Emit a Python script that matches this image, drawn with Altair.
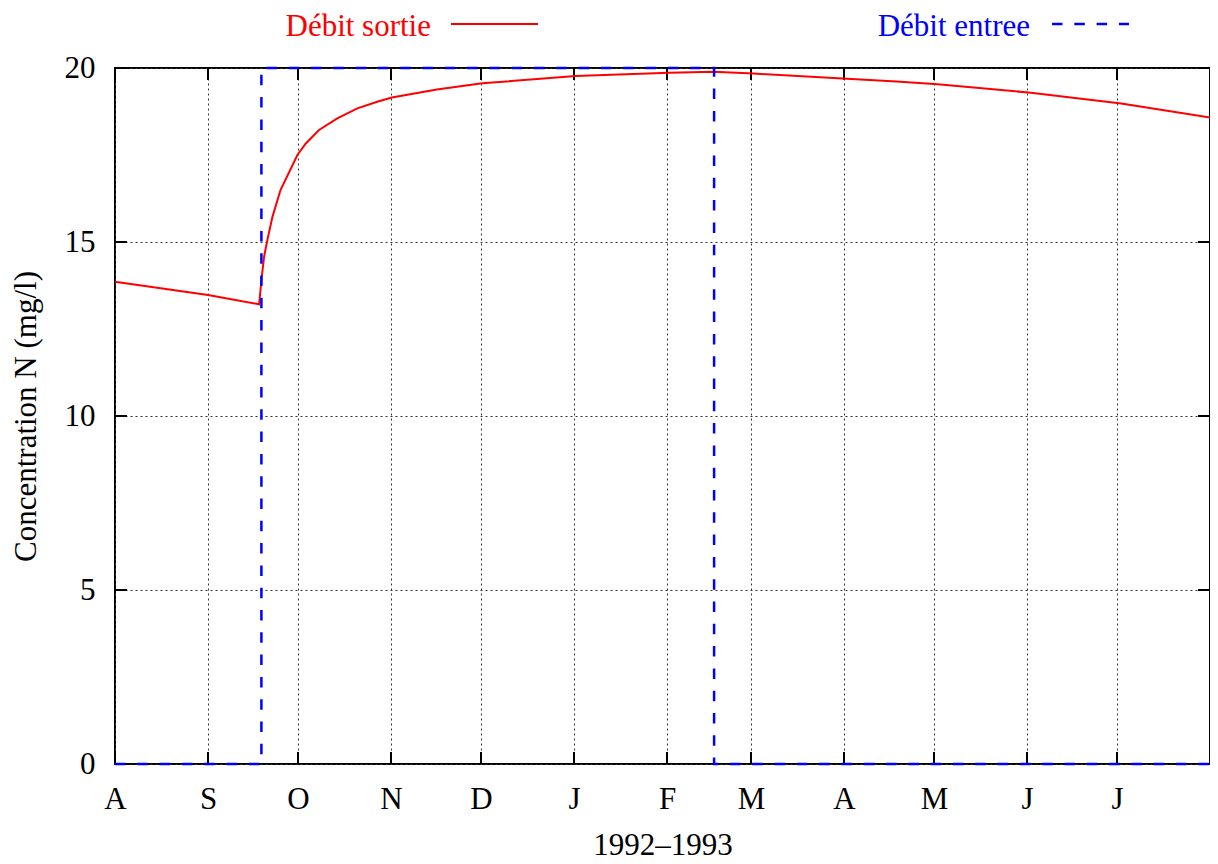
import altair as alt
import pandas as pd

# ---- data ----
month_days = [0, 31, 61, 92, 122, 153, 184, 212, 243, 273, 304, 334]
month_labels = ["A", "S", "O", "N", "D", "J", "F", "M", "A", "M", "J", "J"]
y_ticks = [0, 5, 10, 15, 20]

series_names = ["Débit sortie", "Débit entree"]

sortie_days = [0, 31, 48.05, 48.8, 49.7, 50.8, 52.5, 55.2, 60.8, 63.6, 68.0, 74.1,
               80.8, 87.4, 92.3, 107.3, 122.4, 153.6, 160.7, 184.8, 199.5, 212.8,
               244, 260.5, 274.2, 305.3, 335.4, 365]
sortie_vals = [13.86, 13.48, 13.21, 13.9, 14.58, 15.06, 15.73, 16.5, 17.5, 17.83, 18.22, 18.55,
               18.84, 19.03, 19.15, 19.38, 19.56, 19.77, 19.79, 19.86, 19.89, 19.84,
               19.69, 19.61, 19.53, 19.29, 18.98, 18.58]

entree_days = [0, 48.8, 48.8, 199.7, 199.7, 365]
entree_vals = [0, 0, 20, 20, 0, 0]

# ---- styling ----
FONT = "Liberation Serif"
FS = 31
W, H = 1095, 696
PAD_L, PAD_T = 107, 60
RED = "#ff0000"
BLUE = "#0000ff"

x_scale = alt.Scale(domain=[0, 365], nice=False, zero=False)
y_scale = alt.Scale(domain=[0, 20], nice=False, zero=True)

label_expr = " : ".join(f"datum.value == {d} ? '{l}'" for d, l in zip(month_days, month_labels)) + " : ''"

x_axis = alt.Axis(values=month_days, labelExpr=label_expr, grid=True, gridDash=[2, 3],
                  gridColor="#333333", gridWidth=1, gridOpacity=1, ticks=False, domain=False,
                  labelFont=FONT, labelFontSize=FS, labelColor="black", labelPadding=20,
                  labelFlush=False, labelOverlap=False,
                  title="1992\u20131993", titleFont=FONT, titleFontSize=FS,
                  titleFontWeight="normal", titleColor="black", titleY=90,
                  titleBaseline="alphabetic")
y_axis = alt.Axis(values=y_ticks, grid=True, gridDash=[2, 3], gridColor="#333333",
                  gridWidth=1, gridOpacity=1, ticks=False, domain=False,
                  labelFont=FONT, labelFontSize=FS, labelColor="black", labelPadding=20,
                  labelBaseline="middle", labelOverlap=False, labelFlush=False,
                  title="Concentration N (mg/l)", titleFont=FONT, titleFontSize=FS,
                  titleFontWeight="normal", titleColor="black", titleX=-80, titleY=H / 2,
                  titleAngle=270, titleAlign="center", titleBaseline="alphabetic")

df_sortie = pd.DataFrame({"day": sortie_days, "conc": sortie_vals})
df_entree = pd.DataFrame({"day": entree_days, "conc": entree_vals})
df_xt = pd.DataFrame({"day": month_days})
df_yt = pd.DataFrame({"conc": y_ticks})

X = alt.X("day:Q", scale=x_scale, axis=x_axis)
Y = alt.Y("conc:Q", scale=y_scale, axis=y_axis)

red_line = alt.Chart(df_sortie).mark_line(color=RED, strokeWidth=2).encode(
    x=X, y=Y, order="day:Q")

blue_line = alt.Chart(df_entree).mark_line(color=BLUE, strokeWidth=2.5,
                                           strokeDash=[10.5, 11.8]).encode(x=X, y=Y)

tick_style = dict(color="black", strokeWidth=2)
xt_bottom = alt.Chart(df_xt).mark_rule(**tick_style).encode(
    x=X, y=alt.value(H), y2=alt.value(H - 12))
xt_top = alt.Chart(df_xt).mark_rule(**tick_style).encode(
    x=X, y=alt.value(0), y2=alt.value(12))
yt_left = alt.Chart(df_yt).mark_rule(**tick_style).encode(
    y=Y, x=alt.value(0), x2=alt.value(12))
yt_right = alt.Chart(df_yt).mark_rule(**tick_style).encode(
    y=Y, x=alt.value(W), x2=alt.value(W - 12))

# ---- gnuplot-style key on top ----
def key_text(name, color, xr):
    return alt.Chart(pd.DataFrame({"name": [name]})).mark_text(
        align="right", baseline="alphabetic", font=FONT, fontSize=FS, color=color
    ).encode(x=alt.value(xr), y=alt.value(-32.2), text="name:N")

def key_line(name, color, x1, x2, dash=None):
    kw = dict(color=color, strokeWidth=2 if dash is None else 2.5)
    if dash is not None:
        kw["strokeDash"] = dash
    return alt.Chart(pd.DataFrame({"name": [name]})).mark_rule(**kw).encode(
        x=alt.value(x1), x2=alt.value(x2), y=alt.value(-44))

OX = 8 + PAD_L  # page x of plot origin
legend = [
    key_text(series_names[0], RED, 431 - OX),
    key_line(series_names[0], RED, 451 - OX, 538 - OX),
    key_text(series_names[1], BLUE, 1030 - OX),
    key_line(series_names[1], BLUE, 1052 - OX, 1129 - OX, [10.5, 11.8]),
]

chart = alt.layer(
    xt_bottom, xt_top, yt_left, yt_right, red_line, blue_line, *legend
).properties(
    width=W, height=H,
    padding={"left": PAD_L, "top": PAD_T, "right": 0, "bottom": 98},
    autosize=alt.AutoSizeParams(type="none"),
    background="white",
).configure_view(stroke="black", strokeWidth=2)

chart.save("out.html", embed_options={"renderer": "svg", "actions": False})
